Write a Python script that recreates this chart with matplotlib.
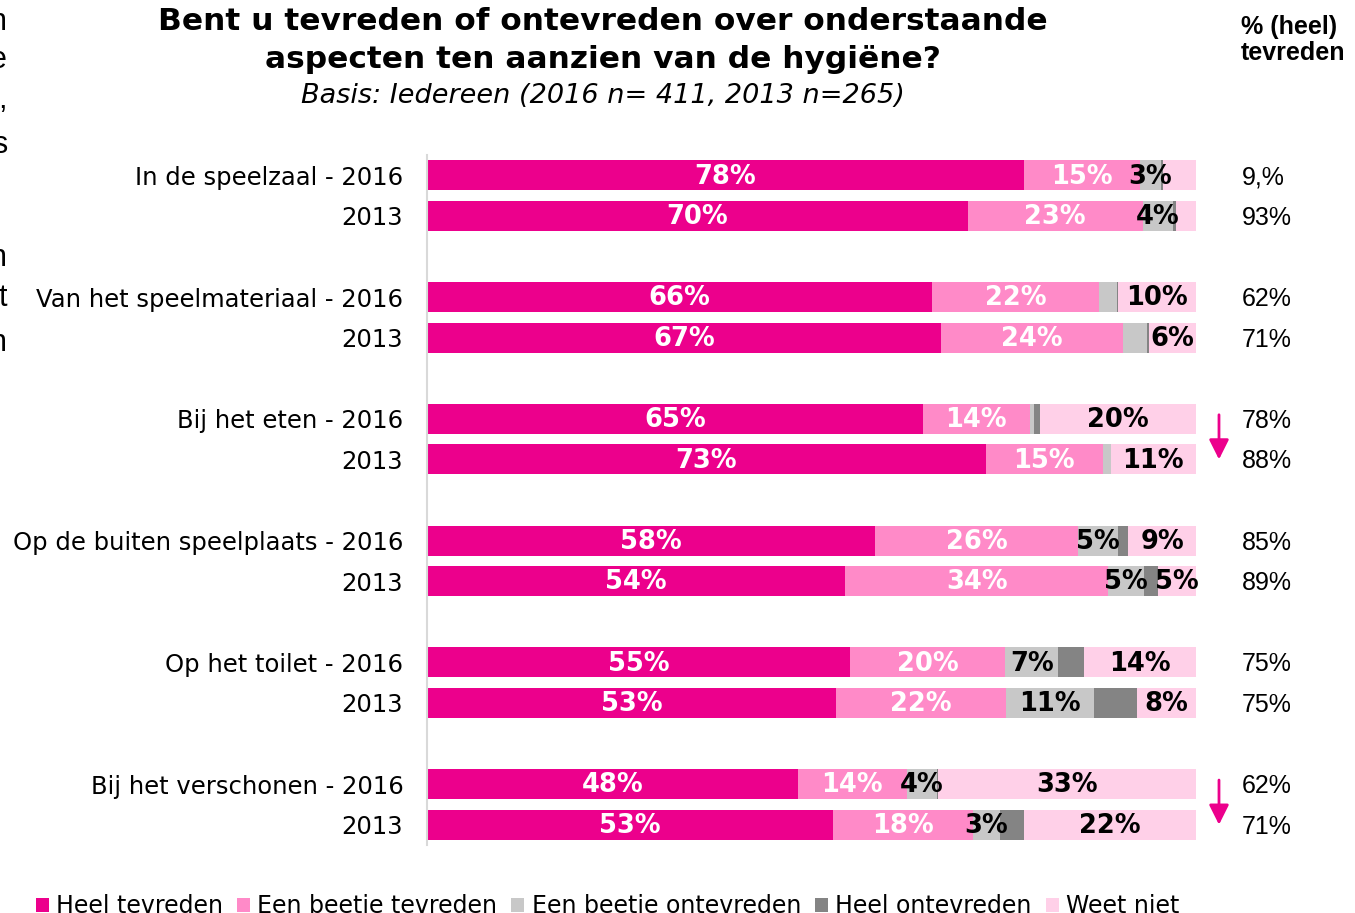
import matplotlib.pyplot as plt
from matplotlib import font_manager as fm
import numpy as np

plt.rcParams['font.family'] = ['DejaVu Sans']

aspects = ['In de speelzaal', 'Van het speelmateriaal', 'Bij het eten',
           'Op de buiten speelplaats', 'Op het toilet', 'Bij het verschonen']
years = ['2016', '2013']

# segment widths (%), two rows per aspect: 2016 then 2013
heel_tevreden = [77.6, 70.3, 65.7, 66.8, 64.5, 72.7, 58.3, 54.4, 55.0, 53.2, 48.2, 52.8]
beetje_tevreden = [15.1, 22.8, 21.7, 23.7, 13.9, 15.2, 26.4, 34.2, 20.2, 22.1, 14.2, 18.2]
beetje_ontevreden = [2.7, 3.9, 2.3, 3.1, 0.5, 1.0, 5.2, 4.7, 6.9, 11.4, 3.9, 3.5]
heel_ontevreden = [0.3, 0.4, 0.2, 0.3, 0.8, 0.0, 1.3, 1.8, 3.4, 5.6, 0.2, 3.1]
weet_niet = [4.3, 2.6, 10.1, 6.1, 20.3, 11.1, 8.8, 4.9, 14.5, 7.7, 33.5, 22.4]

# printed labels (empty = no label in the original)
lbl_heel_tevreden = ['78%', '70%', '66%', '67%', '65%', '73%', '58%', '54%', '55%', '53%', '48%', '53%']
lbl_beetje_tevreden = ['15%', '23%', '22%', '24%', '14%', '15%', '26%', '34%', '20%', '22%', '14%', '18%']
lbl_beetje_ontevreden = ['3%', '4%', '', '', '', '', '5%', '5%', '7%', '11%', '4%', '3%']
lbl_heel_ontevreden = [''] * 12
lbl_weet_niet = ['', '', '10%', '6%', '20%', '11%', '9%', '5%', '14%', '8%', '33%', '22%']

pct_tevreden = ['9,%', '93%', '62%', '71%', '78%', '88%', '85%', '89%', '75%', '75%', '62%', '71%']
arrow_groups = [2, 5]  # aspects with a significant drop

series = [
    ('Heel tevreden', heel_tevreden, lbl_heel_tevreden, '#EC008C', 'white'),
    ('Een beetje tevreden', beetje_tevreden, lbl_beetje_tevreden, '#FF8AC8', 'white'),
    ('Een beetje ontevreden', beetje_ontevreden, lbl_beetje_ontevreden, '#C8C8C8', 'black'),
    ('Heel ontevreden', heel_ontevreden, lbl_heel_ontevreden, '#848484', 'black'),
    ('Weet niet', weet_niet, lbl_weet_niet, '#FFD0E8', 'black'),
]

# plain (not narrow) Liberation Sans Bold for the header
bold_files = [f.fname for f in fm.fontManager.ttflist
              if f.name == 'Liberation Sans' and f.weight in (700, 'bold') and f.style == 'normal']
if bold_files:
    head_font = fm.FontProperties(fname=bold_files[0], size=18)
else:
    head_font = fm.FontProperties(family='DejaVu Sans', weight='bold', size=16)

ypos = np.array([g * 3 + k for g in range(len(aspects)) for k in range(2)])
ylabels = []
for a in aspects:
    ylabels += [a + ' - ' + years[0], years[1]]

fig = plt.figure(figsize=(13.55, 9.13), dpi=100)
ax = fig.add_axes([0.3151, 0.0745, 0.5675, 0.7557])

left = np.zeros(len(ypos))
for name, vals, labels, col, tcol in series:
    vals = np.array(vals)
    ax.barh(ypos, vals, left=left, height=0.74, color=col, label=name)
    for y, l, v, t in zip(ypos, left, vals, labels):
        if t:
            ax.text(l + v / 2, y + 0.03, t, ha='center', va='center', color=tcol,
                    fontsize=18.5, fontweight='bold')
    left += vals

ax.set_xlim(0, 100)
ax.set_ylim(16.5, -0.5)
ax.set_yticks(ypos)
ax.set_yticklabels(ylabels, fontsize=17.5)
ax.tick_params(axis='y', length=0, pad=17)
ax.set_xticks([])
for s in ['top', 'right', 'bottom']:
    ax.spines[s].set_visible(False)
ax.spines['left'].set_color('#D9D9D9')
ax.spines['left'].set_linewidth(1.5)

# right column: % (heel) tevreden
for y, t in zip(ypos, pct_tevreden):
    ax.text(106, y + 0.05, t, ha='left', va='center', fontsize=18,
            family='Liberation Sans', clip_on=False)
fig.text(1241 / 1355, 1 - 40 / 913, '% (heel)\ntevreden', ha='left', va='center',
         fontproperties=head_font, linespacing=1.1)

for g in arrow_groups:
    ax.annotate('', xy=(103, g * 3 + 1.0), xytext=(103, g * 3 - 0.1),
                arrowprops=dict(arrowstyle='-|>', color='#EC008C', lw=2,
                                mutation_scale=30, shrinkA=0, shrinkB=0),
                annotation_clip=False)

fig.text(603 / 1355, 1 - 21 / 913, 'Bent u tevreden of ontevreden over onderstaande',
         ha='center', va='center', fontsize=22.5, fontweight='bold')
fig.text(603 / 1355, 1 - 59 / 913, 'aspecten ten aanzien van de hygiëne?',
         ha='center', va='center', fontsize=22.5, fontweight='bold')
fig.text(603 / 1355, 1 - 96 / 913, 'Basis: Iedereen (2016 n= 411, 2013 n=265)',
         ha='center', va='center', fontsize=19.5, style='italic')

# clipped text of the neighbouring slide column
for ch, yy in [('n', 22), ('e', 60), (',', 100), ('s', 145), ('n', 258), ('t', 298), ('n', 343)]:
    fig.text(7 / 1355, 1 - yy / 913, ch, ha='right', va='center', fontsize=22,
             family='Liberation Sans')

fig.legend(loc='lower left', bbox_to_anchor=(36 / 1355, -0.006), ncol=5, frameon=False,
           fontsize=17, handlelength=0.55, handleheight=0.55, handletextpad=0.3,
           columnspacing=0.6, borderpad=0, borderaxespad=0)

fig.savefig('out.png', dpi=100)
